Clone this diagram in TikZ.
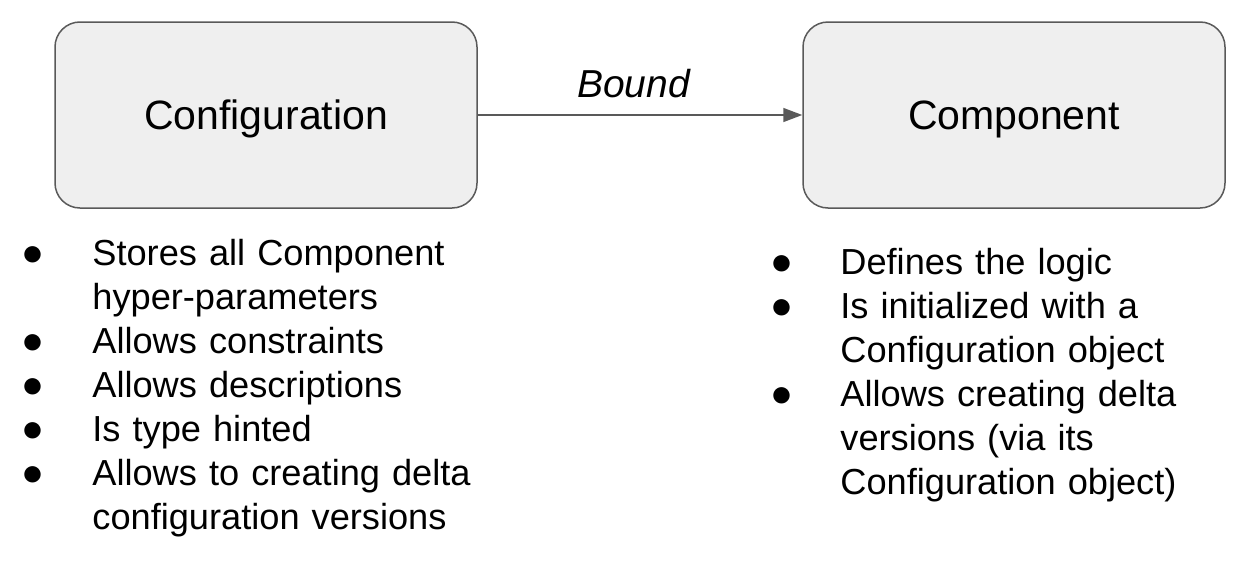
\documentclass[tikz,border=0pt]{standalone}
\usepackage{fontspec}
\setmainfont{Liberation Sans}
\usepackage{xcolor}
\usetikzlibrary{positioning, arrows.meta}
\definecolor{boxgray}{HTML}{EFEFEF}
\definecolor{linegray}{HTML}{595959}

\begin{document}
\begin{tikzpicture}[x=1pt, y=-1pt, >={Triangle[length=19pt, width=14pt]}, thick]
		\useasboundingbox (0,0) rectangle (1241,565);
		\tikzset{
			block/.style={draw=linegray, fill=boxgray, line width=1.5pt, rounded corners=25pt, minimum width=422pt, minimum height=186pt, text depth=0pt, font=\fontsize{41}{49}\selectfont},
			bul/.style={anchor=base, inner sep=0pt, font=\fontsize{38}{44}\selectfont},
			listitem/.style={anchor=base west, inner sep=0pt, text width=420pt, align=left, font=\fontsize{36.2}{44}\selectfont}
		}

		\node[block] (conf) at (266,115) {Configuration};
		\node[block] (comp) at (1014,115) {Component};

		\draw[->, linegray, line width=1.5pt]
		(conf) -- (comp)
		node[pos=0.48, anchor=base, yshift=18pt, text=black, font=\fontsize{39}{47}\selectfont\itshape] (bound) {Bound};

		% left list
		\node[bul] (b1) at (33,265) {●};
		\node[listitem] (t1) at (92,265) {Stores all Component\\hyper-parameters};
		\node[bul] (b2) at (33,353) {●};
		\node[listitem] (t2) at (92,353) {Allows constraints};
		\node[bul] (b3) at (33,397) {●};
		\node[listitem] (t3) at (92,397) {Allows descriptions};
		\node[bul] (b4) at (33,441) {●};
		\node[listitem] (t4) at (92,441) {Is type hinted};
		\node[bul] (b5) at (33,485) {●};
		\node[listitem] (t5) at (92,485) {Allows to creating delta\\configuration versions};

		% right list
		\node[bul] (r1) at (782,274) {●};
		\node[listitem] (s1) at (840,274) {Defines the logic};
		\node[bul] (r2) at (782,318) {●};
		\node[listitem] (s2) at (840,318) {Is initialized with a\\Configuration object};
		\node[bul] (r3) at (782,406) {●};
		\node[listitem] (s3) at (840,406) {Allows creating delta\\versions (via its\\Configuration object)};

	\end{tikzpicture}
\end{document}
